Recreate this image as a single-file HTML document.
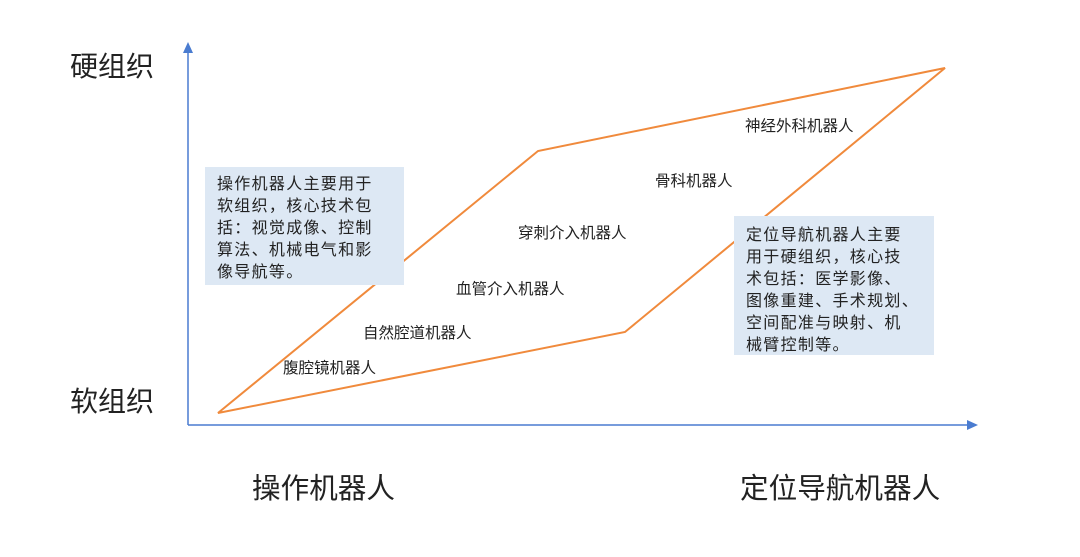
<!DOCTYPE html>
<html><head><meta charset="utf-8"><style>
body{margin:0;width:1080px;height:557px;background:#fff;position:relative;overflow:hidden;font-family:"Liberation Sans","Noto Sans CJK SC",sans-serif;color:#222}
.t{position:absolute;white-space:nowrap;line-height:1}
.s{font-size:15.5px}
.box{position:absolute;background:#dde8f4;font-size:16px;letter-spacing:1.3px;line-height:22px;padding:7px 0 0 12px;box-sizing:border-box;color:#222;white-space:nowrap}
</style></head><body>
<svg width="1080" height="557" style="position:absolute;left:0;top:0">
<line x1="188" y1="425" x2="188" y2="52" stroke="#4a7cd0" stroke-width="1.5"/>
<polygon points="183,53 193,53 188,42" fill="#4a7cd0"/>
<line x1="188" y1="425" x2="968" y2="425" stroke="#4a7cd0" stroke-width="1.5"/>
<polygon points="967,420 967,430 978,425" fill="#4a7cd0"/>
<polygon points="218,413 538,151 945,68 625,332" fill="none" stroke="#f08a3c" stroke-width="2"/>
</svg>
<div class="box" style="left:205px;top:167px;width:199px;height:118px">操作机器人主要用于<br>软组织，核心技术包<br>括：视觉成像、控制<br>算法、机械电气和影<br>像导航等。</div>
<div class="box" style="left:734px;top:216px;width:200px;height:139px;padding-top:9px">定位导航机器人主要<br>用于硬组织，核心技<br>术包括：医学影像、<br>图像重建、手术规划、<br>空间配准与映射、机<br>械臂控制等。</div>
<div class="t s" style="left:745px;top:119px">神经外科机器人</div>
<div class="t s" style="left:655px;top:174px">骨科机器人</div>
<div class="t s" style="left:518px;top:226px">穿刺介入机器人</div>
<div class="t s" style="left:456px;top:282px">血管介入机器人</div>
<div class="t s" style="left:363px;top:326px">自然腔道机器人</div>
<div class="t s" style="left:283px;top:361px">腹腔镜机器人</div>
<div class="t" style="left:70px;top:53px;font-size:28px">硬组织</div>
<div class="t" style="left:70px;top:388px;font-size:28px">软组织</div>
<div class="t" style="left:252px;top:475px;font-size:28.6px">操作机器人</div>
<div class="t" style="left:740px;top:475px;font-size:28.6px">定位导航机器人</div>
</body></html>
